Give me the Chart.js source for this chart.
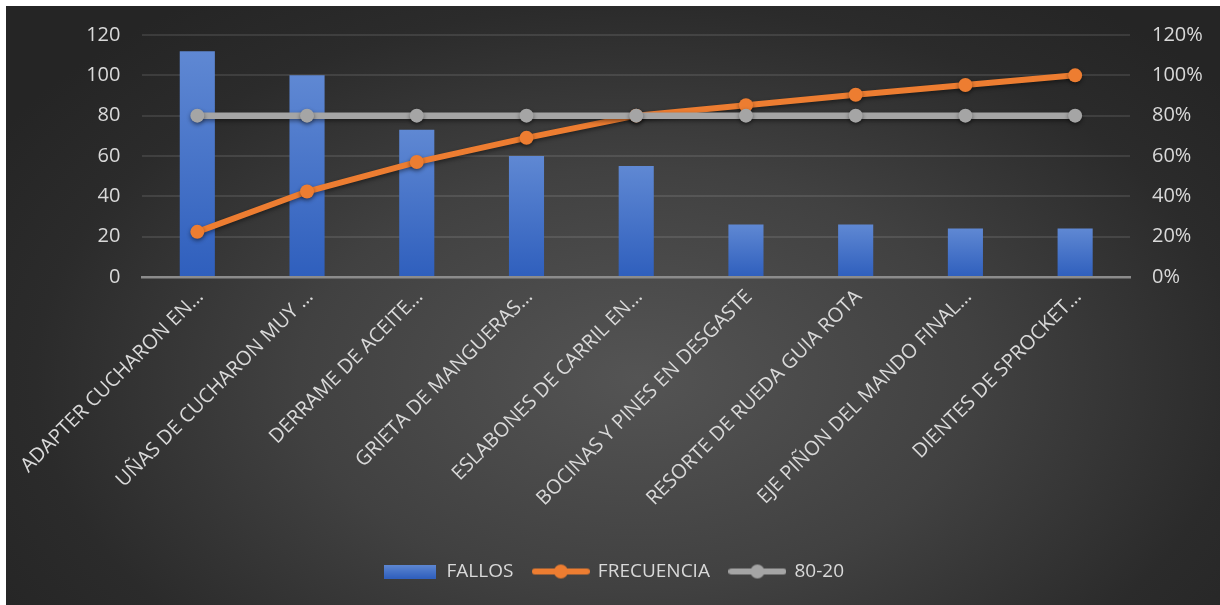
<!DOCTYPE html>
<html>
<head>
<meta charset="utf-8">
<script src="https://cdn.jsdelivr.net/npm/chart.js@4/dist/chart.umd.min.js"></script>
<style>
  html, body { margin: 0; padding: 0; background: #ffffff; width: 1220px; height: 605px; overflow: hidden; }
  #wrap {
    position: absolute; left: 6px; top: 6px; width: 1214px; height: 599px;
    background: radial-gradient(ellipse 62% 78% at 52% 62%, #545454 0%, #414141 45%, #2b2b2b 80%, #252525 100%);
  }
  canvas { display: block; }
</style>
</head>
<body>
<div id="wrap"><canvas id="c"></canvas></div>
<script>
const categories = [
  "ADAPTER CUCHARON EN…",
  "UÑAS DE CUCHARON MUY …",
  "DERRAME DE ACEITE…",
  "GRIETA DE MANGUERAS…",
  "ESLABONES DE CARRIL EN…",
  "BOCINAS Y PINES EN DESGASTE",
  "RESORTE DE RUEDA GUIA ROTA",
  "EJE PIÑON DEL MANDO FINAL…",
  "DIENTES DE SPROCKET…"
];
const fallos = [112, 100, 73, 60, 55, 26, 26, 24, 24];
const frecuencia = [22.4, 42.4, 57, 69, 80, 85.2, 90.4, 95.2, 100];
const referencia = [80, 80, 80, 80, 80, 80, 80, 80, 80];
const seriesNames = ["FALLOS", "FRECUENCIA", "80-20"];

const FONT = "'Open Sans', 'DejaVu Sans', sans-serif";
const TXT = "#d9d9d9";
const ORANGE = "#ed7d31";
const GRAY = "#a5a5a5";

function barIcon() {
  const c = document.createElement('canvas');
  c.width = 52; c.height = 14;
  const x = c.getContext('2d');
  const g = x.createLinearGradient(0, 0, 0, 14);
  g.addColorStop(0, '#5f88d3'); g.addColorStop(1, '#2f5fbd');
  x.fillStyle = g; x.fillRect(0, 0, 52, 14);
  return c;
}
function lineIcon(color) {
  const c = document.createElement('canvas');
  c.width = 58; c.height = 16;
  const x = c.getContext('2d');
  x.strokeStyle = color; x.lineWidth = 6; x.lineCap = 'round';
  x.beginPath(); x.moveTo(3, 8); x.lineTo(55, 8); x.stroke();
  x.fillStyle = color; x.beginPath(); x.arc(29, 8, 7, 0, Math.PI * 2); x.fill();
  return c;
}

const shadowPlugin = {
  id: 'shadow',
  beforeDatasetDraw(chart, args) {
    if (args.meta.type === 'line') {
      const ctx = chart.ctx;
      ctx.save();
      ctx.shadowColor = 'rgba(0,0,0,0.45)';
      ctx.shadowBlur = 4;
      ctx.shadowOffsetY = 2;
    }
  },
  afterDatasetDraw(chart, args) {
    if (args.meta.type === 'line') chart.ctx.restore();
  }
};

function barGradient(c) {
  const ch = c.chart;
  if (c.type !== 'data' || !ch.chartArea || !ch.scales.y) return '#4472c4';
  const ys = ch.scales.y;
  const top = ys.getPixelForValue(c.raw);
  const bot = ys.getPixelForValue(0);
  if (!isFinite(top) || !isFinite(bot) || top === bot) return '#4472c4';
  const g = ch.ctx.createLinearGradient(0, top, 0, bot);
  g.addColorStop(0, '#5f88d3');
  g.addColorStop(1, '#2f5fbd');
  return g;
}

function fixY(width) {
  return function (s) { s.width = width; s.paddingTop = 10; s.paddingBottom = 10; };
}

new Chart(document.getElementById('c'), {
  data: {
    labels: categories,
    datasets: [
      {
        type: 'bar', label: seriesNames[0], data: fallos, yAxisID: 'y', order: 3,
        backgroundColor: barGradient, borderWidth: 0,
        barPercentage: 0.32, categoryPercentage: 1
      },
      {
        type: 'line', label: seriesNames[1], data: frecuencia, yAxisID: 'y2', order: 2,
        borderColor: ORANGE, backgroundColor: ORANGE, borderWidth: 6,
        pointRadius: 7, pointHoverRadius: 7, pointBackgroundColor: ORANGE, pointBorderWidth: 0,
        tension: 0
      },
      {
        type: 'line', label: seriesNames[2], data: referencia, yAxisID: 'y2', order: 1,
        borderColor: GRAY, backgroundColor: GRAY, borderWidth: 6.5,
        pointRadius: 7, pointHoverRadius: 7, pointBackgroundColor: GRAY, pointBorderWidth: 0,
        tension: 0
      }
    ]
  },
  options: {
    responsive: true,
    maintainAspectRatio: false,
    animation: false,
    layout: { autoPadding: false, padding: { top: 29, bottom: 14, left: 0, right: 0 } },
    plugins: {
      tooltip: { enabled: false },
      legend: {
        position: 'bottom',
        labels: {
          usePointStyle: true,
          pointStyleWidth: 55,
          padding: 20,
          color: TXT,
          font: { family: FONT, size: 19 },
          generateLabels: () => [
            { text: seriesNames[0], pointStyle: barIcon(), fontColor: TXT, datasetIndex: 0, hidden: false, lineWidth: 0 },
            { text: seriesNames[1], pointStyle: lineIcon(ORANGE), fontColor: TXT, datasetIndex: 1, hidden: false, lineWidth: 0 },
            { text: seriesNames[2], pointStyle: lineIcon(GRAY), fontColor: TXT, datasetIndex: 2, hidden: false, lineWidth: 0 }
          ]
        }
      }
    },
    scales: {
      x: {
        offset: true,
        grid: { display: false, drawTicks: false },
        border: { display: true, color: '#8c8c8c', width: 2.5 },
        ticks: {
          color: TXT, font: { family: FONT, size: 20 },
          maxRotation: 45, minRotation: 45, autoSkip: false, padding: 8, labelOffset: 3
        },
        afterFit(s) { s.height = 265; }
      },
      y: {
        position: 'left', min: 0, max: 120,
        ticks: { stepSize: 20, color: TXT, font: { family: FONT, size: 20 }, padding: 22 },
        grid: { color: 'rgba(255,255,255,0.10)', lineWidth: 2, drawTicks: false },
        border: { display: false },
        afterFit: fixY(136)
      },
      y2: {
        position: 'right', min: 0, max: 120,
        ticks: { stepSize: 20, color: TXT, font: { family: FONT, size: 20 }, padding: 22,
                 callback: (v) => v + '%' },
        grid: { display: false, drawTicks: false },
        border: { display: false },
        afterFit: fixY(90)
      }
    }
  },
  plugins: [shadowPlugin]
});
</script>
</body>
</html>
